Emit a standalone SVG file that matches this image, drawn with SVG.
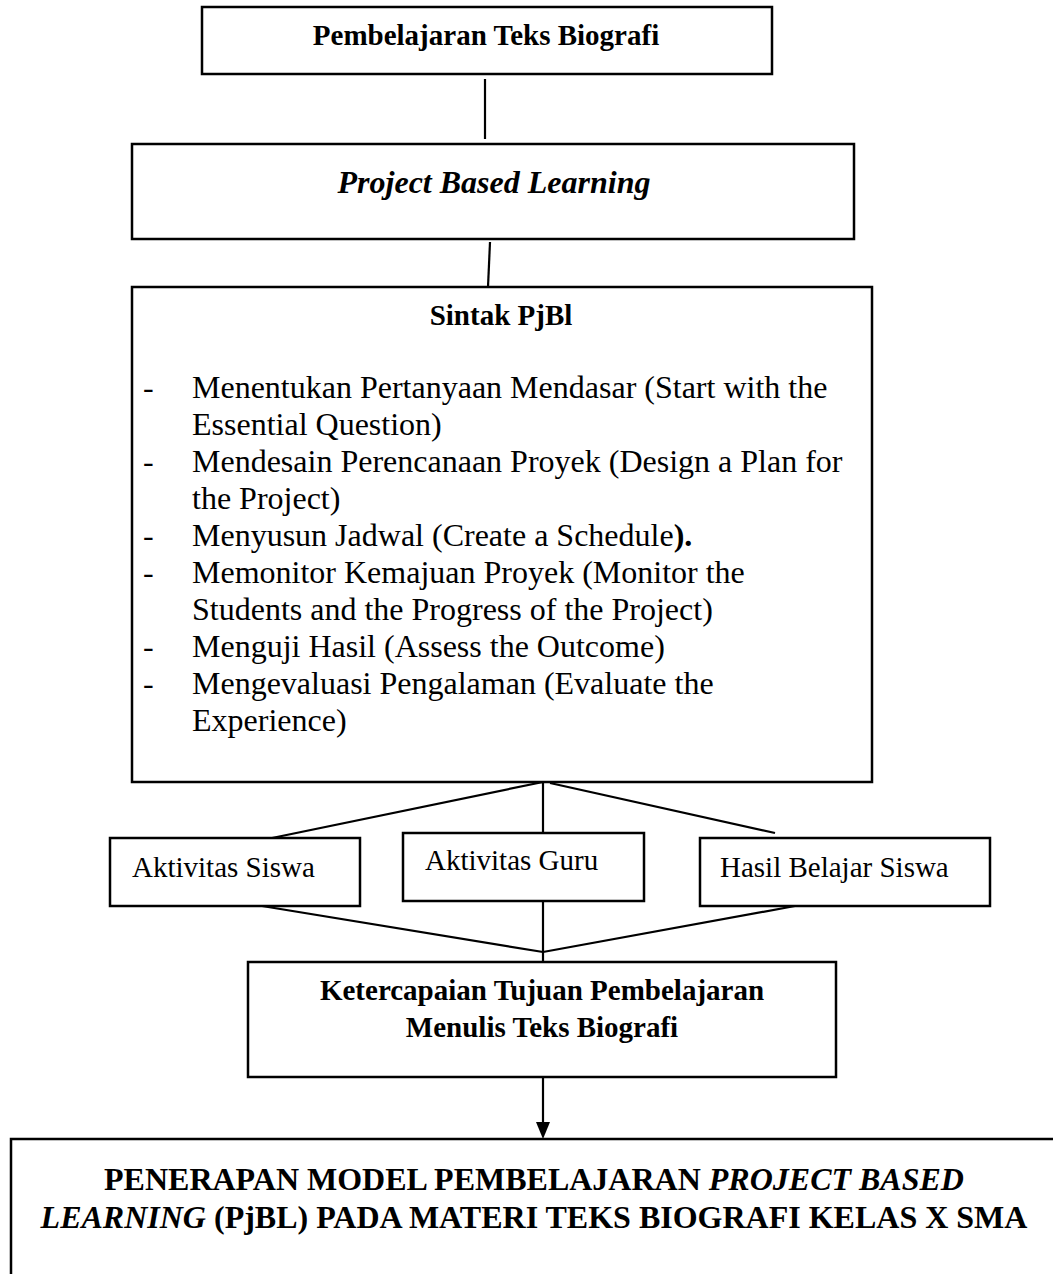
<svg xmlns="http://www.w3.org/2000/svg" width="1053" height="1274" viewBox="0 0 1053 1274">
<defs>
<style>
.box{fill:#fff;stroke:#000;stroke-width:2.5}
.ln{fill:none;stroke:#000;stroke-width:2.2}
text{font-family:"Liberation Serif","Times New Roman",serif;fill:#000}
.b{font-weight:bold}
.i{font-style:italic}
.list{font-size:32px}
.sm{font-size:29px}
</style>
<marker id="arr" viewBox="0 0 14 16" refX="7" refY="16" markerWidth="14" markerHeight="16" markerUnits="userSpaceOnUse" orient="auto-start-reverse">
<path d="M0,0 L14,0 L7,16 Z" fill="#000" transform="rotate(0)"/>
</marker>
</defs>
<rect width="1053" height="1274" fill="#fff"/>
<g id="connectors">
<line class="ln" x1="485" y1="79" x2="485" y2="139"/>
<line class="ln" x1="490" y1="242" x2="488" y2="287"/>
<line class="ln" x1="543" y1="782" x2="272" y2="838"/>
<line class="ln" x1="543" y1="782" x2="543" y2="837"/>
<line class="ln" x1="550" y1="783" x2="775" y2="833"/>
<line class="ln" x1="262" y1="906" x2="543" y2="952"/>
<line class="ln" x1="795" y1="906" x2="543" y2="952"/>
<line class="ln" x1="543" y1="901" x2="543" y2="962"/>
<line class="ln" x1="543" y1="1077" x2="543" y2="1123"/>
<path d="M536,1122 L550,1122 L543,1139 Z" fill="#000"/>
</g>
<g id="node-pembelajaran">
<rect class="box" x="202" y="7" width="570" height="67"/>
<text class="b" x="486" y="45" font-size="29" text-anchor="middle">Pembelajaran Teks Biografi</text>
</g>
<g id="node-pbl">
<rect class="box" x="132" y="144" width="722" height="95"/>
<text class="b i" x="494" y="193" font-size="32" text-anchor="middle">Project Based Learning</text>
</g>
<g id="node-sintak">
<rect class="box" x="132" y="287" width="740" height="495"/>
<text class="b" x="501" y="325" font-size="29" text-anchor="middle">Sintak PjBl</text>
<g class="list">
<text x="143" y="398">-</text>
<text x="192" y="398">Menentukan Pertanyaan Mendasar (Start with the</text>
<text x="192" y="435">Essential Question)</text>
<text x="143" y="472">-</text>
<text x="192" y="472">Mendesain Perencanaan Proyek (Design a Plan for</text>
<text x="192" y="509">the Project)</text>
<text x="143" y="546">-</text>
<text x="192" y="546">Menyusun Jadwal (Create a Schedule<tspan class="b">).</tspan></text>
<text x="143" y="583">-</text>
<text x="192" y="583">Memonitor Kemajuan Proyek (Monitor the</text>
<text x="192" y="620">Students and the Progress of the Project)</text>
<text x="143" y="657">-</text>
<text x="192" y="657">Menguji Hasil (Assess the Outcome)</text>
<text x="143" y="694">-</text>
<text x="192" y="694">Mengevaluasi Pengalaman (Evaluate the</text>
<text x="192" y="731">Experience)</text>
</g>
</g>
<g id="node-aktivitas-siswa">
<rect class="box" x="110" y="838" width="250" height="68"/>
<text class="sm" x="132" y="877">Aktivitas Siswa</text>
</g>
<g id="node-aktivitas-guru">
<rect class="box" x="403" y="833" width="241" height="68"/>
<text class="sm" x="425" y="870">Aktivitas Guru</text>
</g>
<g id="node-hasil-belajar">
<rect class="box" x="700" y="838" width="290" height="68"/>
<text class="sm" x="720" y="877">Hasil Belajar Siswa</text>
</g>
<g id="node-ketercapaian">
<rect class="box" x="248" y="962" width="588" height="115"/>
<text class="b" x="542" y="1000" font-size="29" text-anchor="middle">Ketercapaian Tujuan Pembelajaran</text>
<text class="b" x="542" y="1037" font-size="29" text-anchor="middle">Menulis Teks Biografi</text>
</g>
<g id="node-penerapan">
<rect class="box" x="11" y="1139" width="1070" height="200"/>
<text class="b" x="534" y="1190" font-size="32" text-anchor="middle">PENERAPAN MODEL PEMBELAJARAN <tspan class="i">PROJECT BASED</tspan></text>
<text class="b" x="534" y="1228" font-size="32" text-anchor="middle"><tspan class="i">LEARNING</tspan> (PjBL) PADA MATERI TEKS BIOGRAFI KELAS X SMA</text>
</g>
</svg>
